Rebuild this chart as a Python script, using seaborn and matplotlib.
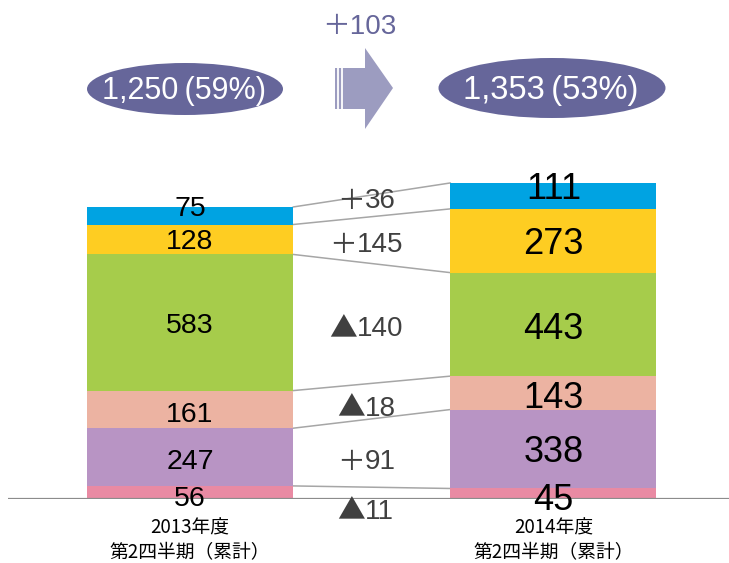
import matplotlib
matplotlib.use("Agg")
import matplotlib.pyplot as plt
import seaborn as sns
import pandas as pd
import numpy as np
from matplotlib.patches import Ellipse, Polygon

# data (bottom -> top)
periods = ["2013年度\n第2四半期（累計）", "2014年度\n第2四半期（累計）"]
segments = ["seg1", "seg2", "seg3", "seg4", "seg5", "seg6"]
values_2013 = [56, 247, 161, 583, 128, 75]
values_2014 = [45, 338, 143, 443, 273, 111]
share_pct = [59, 53]
colors = ["#E98AA3", "#B894C4", "#ECB3A2", "#A6CC4B", "#FECD22", "#00A3E2"]

# small nudges for label placement (pixels, + = up)
nudge_left = [-6.5, -5, -5.6, -3, -3, 7]
nudge_right = [-6.5, -3.5, -5.5, -5.5, -3.5, 6.5]
nudge_mid = [-18.5, -8.5, -7.5, -6, -4.8, 4.5]

sns.set_theme(style="white")
plt.rcParams['font.family'] = ['Liberation Sans', 'Noto Sans CJK JP', 'DejaVu Sans']

W, H = 729, 563
fig = plt.figure(figsize=(W / 100, H / 100), dpi=100)
ax = fig.add_axes([8 / W, 64 / H, 721 / W, 349 / H])

vals = np.array([values_2013, values_2014])
cum = vals.cumsum(axis=1)
bar_w = 0.567

# stacked bars: draw cumulative totals from top segment down
for k in range(len(segments) - 1, -1, -1):
    df = pd.DataFrame({"period": periods, "cum": cum[:, k]})
    sns.barplot(data=df, x="period", y="cum", color=colors[k], saturation=1,
                width=bar_w, linewidth=0, ax=ax, zorder=2)

ax.set_xlim(-0.5007, 1.483)
ax.set_ylim(0, 1494)
ax.axhline(0, color="#8C8C8C", lw=1.6, zorder=3)

# connector lines between segment boundaries
for k in range(len(segments)):
    ax.plot([bar_w / 2, 1 - bar_w / 2], [cum[0, k], cum[1, k]],
            color="#A6A6A6", lw=1.1, zorder=1)

# segment labels
centers = cum - vals / 2
mid_fs = 20
em = mid_fs / 0.72  # px
for k in range(len(segments)):
    ax.annotate(str(values_2013[k]), (0, centers[0, k]), xytext=(0, nudge_left[k] * 0.72),
                textcoords="offset points", ha="center", va="center",
                fontsize=20.5, color="black", zorder=4, annotation_clip=False)
    ax.annotate(str(values_2014[k]), (1, centers[1, k]), xytext=(0, nudge_right[k] * 0.72),
                textcoords="offset points", ha="center", va="center",
                fontsize=26, color="black", zorder=4, annotation_clip=False)
    # change label: full-width sign + digits
    d = values_2014[k] - values_2013[k]
    sign = "＋" if d > 0 else "▲"
    digits = str(abs(d))
    group_w = em + 0.556 * em * len(digits)
    x_join = -5.7 - group_w / 2 + em
    y_mid = centers[:, k].mean()
    ax.annotate(sign, (0.5, y_mid), xytext=(x_join * 0.72, nudge_mid[k] * 0.72),
                textcoords="offset points", ha="right", va="center",
                fontsize=mid_fs, color="#404040", zorder=4, annotation_clip=False,
                family=['Noto Sans CJK JP', 'DejaVu Sans'])
    ax.annotate(digits, (0.5, y_mid), xytext=(x_join * 0.72, nudge_mid[k] * 0.72),
                textcoords="offset points", ha="left", va="center",
                fontsize=mid_fs, color="#404040", zorder=4, annotation_clip=False)

# category labels, two lines each, below the baseline
ax.set_xticks([0, 1])
ax.set_xticklabels([])
ax.tick_params(axis="x", length=0)
for i, p in enumerate(periods):
    for j, line in enumerate(p.split("\n")):
        ax.annotate(line, (i, 0), xytext=(0, -(29 + 25 * j) * 0.72),
                    textcoords="offset points", ha="center", va="center",
                    fontsize=13.5, color="black", annotation_clip=False,
                    family=['Noto Sans CJK JP', 'DejaVu Sans'])
ax.set_yticks([])
ax.set_xlabel("")
ax.set_ylabel("")
sns.despine(ax=ax, left=True, bottom=True)
ax.patch.set_alpha(0)

# header: totals in ellipses and the arrow (pixel coordinates)
deco = fig.add_axes([0, 0, 1, 1], zorder=5)
deco.set_xlim(0, W)
deco.set_ylim(H, 0)
deco.axis("off")
deco.patch.set_alpha(0)

totals = vals.sum(axis=1)
ell_fc = "#66669A"
deco.add_patch(Ellipse((185, 89), 196, 52, fc=ell_fc, ec="none"))
deco.add_patch(Ellipse((552, 88), 227, 60, fc=ell_fc, ec="none"))
deco.text(184, 91, f"{totals[0]:,}\u2009({share_pct[0]}%)", color="white", fontsize=22,
          ha="center", va="center", family=['Liberation Sans', 'DejaVu Sans'])
deco.text(551, 90, f"{totals[1]:,}\u2009({share_pct[1]}%)", color="white", fontsize=23.5,
          ha="center", va="center", family=['Liberation Sans', 'DejaVu Sans'])

arrow = Polygon([(335, 68), (365, 68), (365, 48), (393, 88), (365, 129),
                 (365, 109), (335, 109)], closed=True, fc="#9C9CC0", ec="none")
deco.add_patch(arrow)
for xs in (338.5, 342.5):
    deco.plot([xs, xs], [68, 109], color="white", lw=1.3)

deco.text(359, 27, f"＋{totals[1] - totals[0]}", color=ell_fc, fontsize=20,
          ha="center", va="center")

fig.savefig("out.png", dpi=100)
